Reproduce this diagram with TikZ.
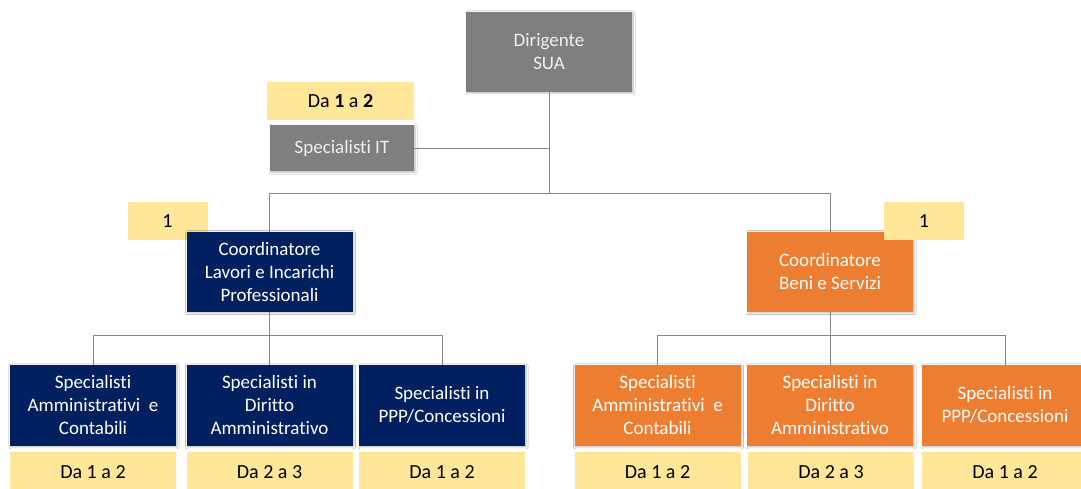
\documentclass[tikz,border=0pt]{standalone}
\usepackage{fontspec}
\setmainfont{Carlito}[Ligatures={NoCommon}]
\usetikzlibrary{shadows.blur}
\definecolor{boxgray}{HTML}{7F7F7F}
\definecolor{navy}{HTML}{002060}
\definecolor{orng}{HTML}{ED7D31}
\definecolor{pale}{HTML}{FFE699}
\definecolor{linegray}{HTML}{858585}
\begin{document}
\begin{tikzpicture}[x=1pt,y=-1pt,
  base/.style={rectangle, inner sep=2pt, align=center, anchor=center,
    font=\fontsize{19}{23}\selectfont},
  shade/.style={blur shadow={shadow xshift=1pt, shadow yshift=-1pt,
    shadow blur radius=2pt, shadow blur steps=4, shadow opacity=30}},
  graybox/.style={base, shade, fill=boxgray, text=white!94!black},
  navybox/.style={base, shade, fill=navy, text=white},
  orangebox/.style={base, shade, fill=orng, text=white},
  tag/.style={base, fill=pale, text=black, font=\fontsize{20}{24}\selectfont},
  unit/.style={minimum width=166pt, minimum height=81pt},
  foot/.style={tag, minimum width=166pt, minimum height=40pt},
  link/.style={draw=linegray, line width=0.9pt}]
\useasboundingbox (0,0) rectangle (1081,489);
\fill[white] (0,0) rectangle (1081,489);

% junction points of the chart
\coordinate (hub) at (549,193);
\coordinate (lsub) at (269.5,335.7);
\coordinate (rsub) at (830,335.7);

% top level
\node[graybox, minimum width=166pt, minimum height=80pt] (dir) at (549,52) {Dirigente\\SUA};
\node[tag, minimum width=147pt, minimum height=38pt] (tit) at (340.5,101) {Da \textbf{1} a \textbf{2}};
\node[graybox, minimum width=144pt, minimum height=46pt] (it) at (342,148) {Specialisti IT};

% left branch
\node[tag, minimum width=80pt, minimum height=38pt] (tl) at (167.5,221) {1};
\node[navybox, unit, minimum height=80pt] (cl) at (269.5,271.7) {Coordinatore\\Lavori e Incarichi\\Professionali};
\node[navybox, unit] (l1) at (93,405.3) {Specialisti\\Amministrativi\ \ e\\Contabili};
\node[navybox, unit] (l2) at (269.5,405.3) {Specialisti in\\Diritto\\Amministrativo};
\node[navybox, unit] (l3) at (442,405.3) {Specialisti in\\PPP/Concessioni};
\node[foot] (tl1) at (93,471.7) {Da 1 a 2};
\node[foot] (tl2) at (269.5,471.7) {Da 2 a 3};
\node[foot] (tl3) at (442,471.7) {Da 1 a 2};

% right branch
\node[orangebox, unit, minimum height=80pt] (cr) at (830,271.7) {Coordinatore\\Beni e Servizi};
\node[tag, minimum width=80pt, minimum height=38pt] (tr) at (924,221) {1};
\node[orangebox, unit] (r1) at (657.5,405.3) {Specialisti\\Amministrativi\ \ e\\Contabili};
\node[orangebox, unit] (r2) at (830,405.3) {Specialisti in\\Diritto\\Amministrativo};
\node[orangebox, unit] (r3) at (1005,405.3) {Specialisti in\\PPP/Concessioni};
\node[foot] (tr1) at (657.5,471.7) {Da 1 a 2};
\node[foot] (tr2) at (831,471.7) {Da 2 a 3};
\node[foot] (tr3) at (1005,471.7) {Da 1 a 2};

% lines of the chart
\draw[link] (dir.south) -- (hub);
\draw[link] (it.east) -- (it.east -| hub);
\draw[link] (hub) -| (cl.north);
\draw[link] (hub) -| (cr.north);
\draw[link] (cl.south) -- (lsub);
\draw[link] (lsub) -| (l1.north);
\draw[link] (lsub) -| (l3.north);
\draw[link] (lsub) -- (l2.north);
\draw[link] (cr.south) -- (rsub);
\draw[link] (rsub) -| (r1.north);
\draw[link] (rsub) -| (r3.north);
\draw[link] (rsub) -- (r2.north);
\end{tikzpicture}
\end{document}
